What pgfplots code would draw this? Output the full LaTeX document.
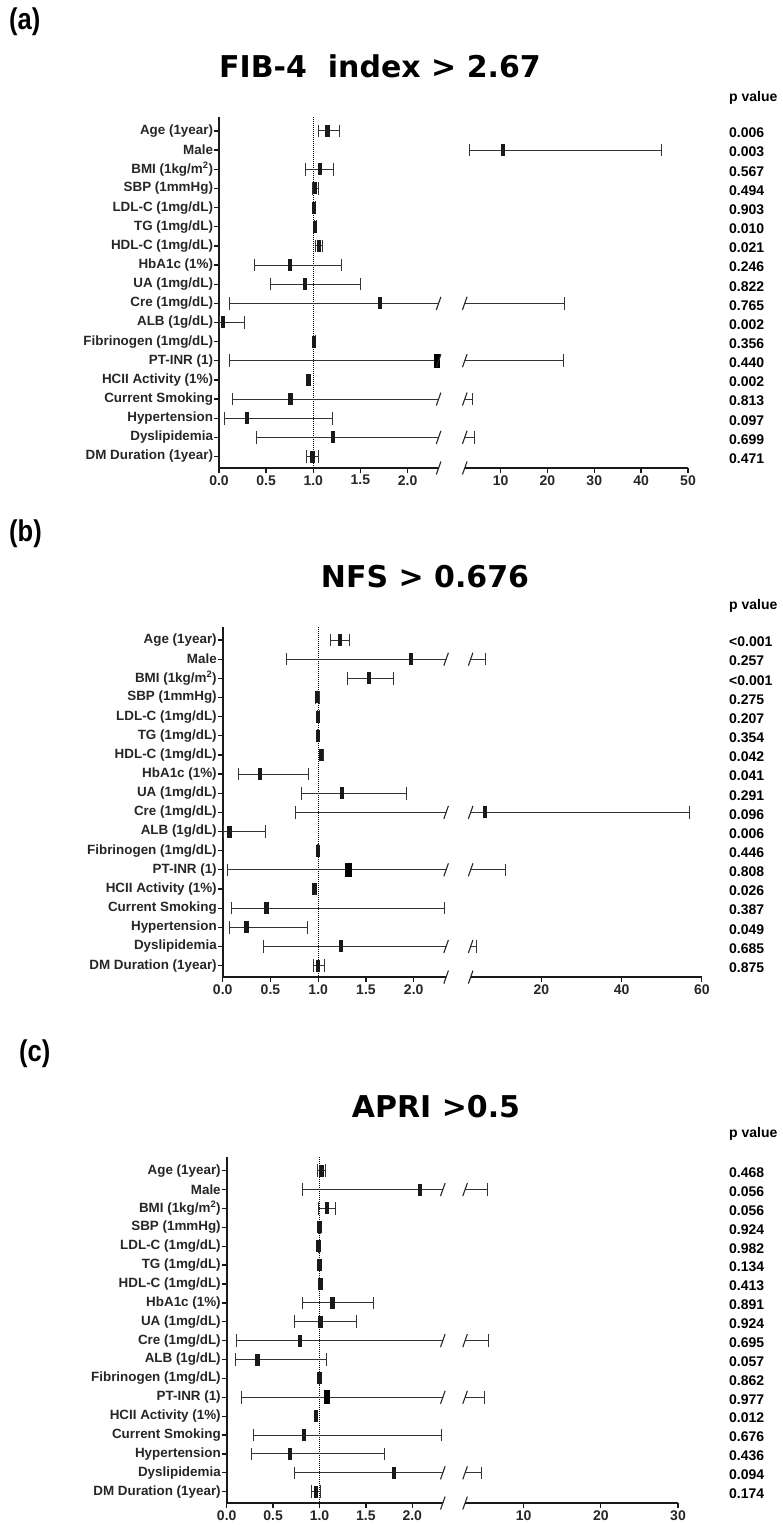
\documentclass[border=0pt]{standalone}
\usepackage{graphicx}
\usepackage{pgfplots}
\pgfplotsset{compat=1.18}
\usepackage{pgfplotstable}
\usepackage{fontspec}
\setmainfont{Liberation Sans}
\newfontfamily\titlefont{DejaVu Sans}

\pgfdeclareplotmark{est}{\pgfpathrectangle{\pgfpoint{-2.2pt}{-6pt}}{\pgfpoint{4.4pt}{12pt}}\pgfusepathqfill}
\pgfdeclareplotmark{estbig}{\pgfpathrectangle{\pgfpoint{-3.3pt}{-7pt}}{\pgfpoint{6.6pt}{14pt}}\pgfusepathqfill}
\pgfdeclareplotmark{cap}{\pgfpathmoveto{\pgfpoint{0pt}{-6.3pt}}\pgfpathlineto{\pgfpoint{0pt}{6.3pt}}\pgfusepathqstroke}
\pgfdeclareplotmark{brk}{\pgfpathmoveto{\pgfpoint{-2.3pt}{-6.5pt}}\pgfpathlineto{\pgfpoint{2.3pt}{6.5pt}}\pgfusepathqstroke}

% (a) FIB-4
\pgfplotstableread{
row est lo hi
1 1.15 1.06 1.28
2 10.5 3.3 44.4
3 1.07 0.92 1.21
4 1.02 0.99 1.06
5 1.01 1.00 1.02
6 1.02 1.01 1.03
7 1.06 1.02 1.10
8 0.75 0.38 1.30
9 0.91 0.55 1.50
10 1.71 0.11 23.6
11 0.04 0.005 0.27
12 1.01 1.00 1.02
13 2.31 0.11 23.4
14 0.95 0.93 0.97
15 0.76 0.14 4.0
16 0.30 0.06 1.20
17 1.21 0.40 4.5
18 0.99 0.93 1.05
}\tabA
% (b) NFS
\pgfplotstableread{
row est lo hi
1 1.23 1.13 1.33
2 1.97 0.67 6.0
3 1.53 1.31 1.79
4 0.99 0.97 1.01
5 1.00 0.99 1.01
6 1.00 0.995 1.005
7 1.03 1.01 1.06
8 0.39 0.17 0.90
9 1.25 0.82 1.92
10 6.0 0.76 57
11 0.07 0.005 0.45
12 1.00 0.995 1.005
13 1.32 0.05 11
14 0.96 0.94 0.98
15 0.46 0.09 2.32
16 0.25 0.07 0.89
17 1.24 0.43 3.9
18 1.00 0.95 1.07
}\tabB
% (c) APRI
\pgfplotstableread{
row est lo hi
1 1.02 0.98 1.06
2 2.08 0.82 5.3
3 1.08 0.99 1.17
4 1.00 0.99 1.01
5 0.99 0.985 1.00
6 1.00 0.995 1.005
7 1.01 0.99 1.03
8 1.14 0.82 1.58
9 1.01 0.73 1.40
10 0.79 0.11 5.5
11 0.33 0.10 1.08
12 1.00 0.995 1.005
13 1.08 0.16 4.9
14 0.965 0.95 0.98
15 0.83 0.29 2.32
16 0.68 0.27 1.70
17 1.80 0.73 4.5
18 0.96 0.91 1.01
}\tabC

\pgfplotsset{
  fp/.style={scale only axis, clip=true, y dir=reverse, axis x line*=bottom,
    axis line style={line width=1.8pt, draw=black!90},
    every tick/.style={line width=1.3pt, black!90}, major tick length=5pt, tick align=outside,
    ticklabel style={font=\fontsize{14}{16}\selectfont\bfseries, text=black!85},
    xticklabel style={inner sep=1pt, yshift=-1pt}},
  fpleft/.style={fp, axis y line*=left, xmin=0, ytick={1,...,18},
    yticklabels={Age (1year), Male, BMI (1kg/m\textsuperscript{2}), SBP (1mmHg), LDL-C (1mg/dL), TG (1mg/dL), HDL-C (1mg/dL), HbA1c (1\%), UA (1mg/dL), Cre (1mg/dL), ALB (1g/dL), Fibrinogen (1mg/dL), PT-INR (1), HCII Activity (1\%), Current Smoking, Hypertension, Dyslipidemia, DM Duration (1year)},
    yticklabel style={font=\fontsize{13.4}{15}\selectfont\bfseries, inner sep=0.8pt},
    xtick={0,0.5,1,1.5,2}, xticklabels={0.0,0.5,1.0,1.5,2.0}},
  fpright/.style={fp, axis y line=none, ytick=\empty},
  ci/.style={draw=black!80, line width=1pt},
}

\newcommand\fpplots[3]{%
  \addplot[ci, quiver={u=\thisrow{hi}-\thisrow{lo}, v=0}] table[x=lo,y=row] {#1};
  \addplot[only marks, mark=cap, black!80, mark options={line width=1pt}, restrict x to domain=#2:#3] table[x=lo,y=row] {#1};
  \addplot[only marks, mark=cap, black!80, mark options={line width=1pt}, restrict x to domain=#2:#3] table[x=hi,y=row] {#1};
  \addplot[only marks, mark=est, black!90, restrict x to domain=#2:#3] table[x=est,y=row] {#1};
}

\begin{document}
\begin{tikzpicture}
\path[use as bounding box] (0,0) rectangle (783pt,-1525pt);

% ---------- (a) ----------
\node[anchor=north west, inner sep=0] at (9pt,-8pt) {\scalebox{0.85}[1]{\fontsize{30}{32}\selectfont\bfseries (a)}};
\node at (380pt,-66pt) {\titlefont\bfseries\fontsize{30}{34}\selectfont FIB-4\ \ index > 2.67};
\node[anchor=west, inner sep=0] at (729pt,-98pt) {\bfseries\fontsize{14}{16}\selectfont p value};
\foreach \p [count=\i] in {0.006,0.003,0.567,0.494,0.903,0.010,0.021,0.246,0.822,0.765,0.002,0.356,0.440,0.002,0.813,0.097,0.699,0.471}
  \node[anchor=west, inner sep=0] at (729pt,{-(133+(\i-1)*19.15)*1pt}) {\bfseries\fontsize{14}{16}\selectfont \p};

\begin{axis}[fpleft, at={(219pt,-117pt)}, anchor=north west, width=219.7pt, height=351.1pt,
  xmax=2.33, ymin=0.269, ymax=18.606]
  \addplot[black, line width=0.7pt, dash pattern=on 0.8pt off 1.2pt] coordinates {(1,0.269) (1,18.606)};
  \fpplots{\tabA}{0}{2.33}
  \addplot[only marks, mark=estbig, black] coordinates {(2.31,13)};
  \addplot[only marks, mark=brk, black!85, mark options={line width=1.1pt}] coordinates {(2.329,10) (2.329,13) (2.329,15) (2.329,17) (2.329,18.6)};
\end{axis}
\begin{axis}[fpright, at={(464.7pt,-117pt)}, anchor=north west, width=223.3pt, height=351.1pt,
  xmin=2.35, xmax=50, ymin=0.269, ymax=18.606, xtick={10,20,30,40,50}, xticklabels={10,20,30,40,50}]
  \fpplots{\tabA}{2.35}{50}
  \addplot[only marks, mark=brk, black!85, mark options={line width=1.1pt}] coordinates {(2.36,10) (2.36,13) (2.36,15) (2.36,17) (2.36,18.6)};
\end{axis}

% ---------- (b) ----------
\node[anchor=north west, inner sep=0] at (9pt,-520pt) {\scalebox{0.85}[1]{\fontsize{30}{32}\selectfont\bfseries (b)}};
\node at (425pt,-577pt) {\titlefont\bfseries\fontsize{30}{34}\selectfont NFS > 0.676};
\node[anchor=west, inner sep=0] at (729pt,-606pt) {\bfseries\fontsize{14}{16}\selectfont p value};
\foreach \p [count=\i] in {<0.001,0.257,<0.001,0.275,0.207,0.354,0.042,0.041,0.291,0.096,0.006,0.446,0.808,0.026,0.387,0.049,0.685,0.875}
  \node[anchor=west, inner sep=0] at (729pt,{-(642+(\i-1)*19.15)*1pt}) {\bfseries\fontsize{14}{16}\selectfont \p};

\begin{axis}[fpleft, at={(222.7pt,-627pt)}, anchor=north west, width=223.5pt, height=350.2pt,
  xmax=2.34, ymin=0.321, ymax=18.606]
  \addplot[black, line width=0.7pt, dash pattern=on 0.8pt off 1.2pt] coordinates {(1,0.321) (1,18.606)};
  \fpplots{\tabB}{0}{2.34}
  \addplot[only marks, mark=estbig, black] coordinates {(1.32,13)};
  \addplot[only marks, mark=brk, black!85, mark options={line width=1.1pt}] coordinates {(2.339,2) (2.339,10) (2.339,13) (2.339,17) (2.339,18.6)};
\end{axis}
\begin{axis}[fpright, at={(470.6pt,-627pt)}, anchor=north west, width=231.2pt, height=350.2pt,
  xmin=2.35, xmax=60, ymin=0.321, ymax=18.606, xtick={20,40,60}, xticklabels={20,40,60}]
  \fpplots{\tabB}{2.35}{60}
  \addplot[only marks, mark=brk, black!85, mark options={line width=1.1pt}] coordinates {(2.36,2) (2.36,10) (2.36,13) (2.36,17) (2.36,18.6)};
\end{axis}

% ---------- (c) ----------
\node[anchor=north west, inner sep=0] at (19pt,-1040pt) {\scalebox{0.85}[1]{\fontsize{30}{32}\selectfont\bfseries (c)}};
\node at (436pt,-1107pt) {\titlefont\bfseries\fontsize{30}{34}\selectfont APRI >0.5};
\node[anchor=west, inner sep=0] at (729pt,-1134pt) {\bfseries\fontsize{14}{16}\selectfont p value};
\foreach \p [count=\i] in {0.468,0.056,0.056,0.924,0.982,0.134,0.413,0.891,0.924,0.695,0.057,0.862,0.977,0.012,0.676,0.436,0.094,0.174}
  \node[anchor=west, inner sep=0] at (729pt,{-(1172.7+(\i-1)*18.88)*1pt}) {\bfseries\fontsize{14}{16}\selectfont \p};

\begin{axis}[fpleft, at={(226.7pt,-1157pt)}, anchor=north west, width=216.2pt, height=346.3pt,
  xmax=2.33, ymin=0.274, ymax=18.614]
  \addplot[black, line width=0.7pt, dash pattern=on 0.8pt off 1.2pt] coordinates {(1,0.274) (1,18.614)};
  \fpplots{\tabC}{0}{2.33}
  \addplot[only marks, mark=estbig, black] coordinates {(1.08,13)};
  \addplot[only marks, mark=brk, black!85, mark options={line width=1.1pt}] coordinates {(2.329,2) (2.329,10) (2.329,13) (2.329,17) (2.329,18.6)};
\end{axis}
\begin{axis}[fpright, at={(465pt,-1157pt)}, anchor=north west, width=213pt, height=346.3pt,
  xmin=2.4, xmax=30, ymin=0.274, ymax=18.614, xtick={10,20,30}, xticklabels={10,20,30}]
  \fpplots{\tabC}{2.4}{30}
  \addplot[only marks, mark=brk, black!85, mark options={line width=1.1pt}] coordinates {(2.41,2) (2.41,10) (2.41,13) (2.41,17) (2.41,18.6)};
\end{axis}
\end{tikzpicture}
\end{document}
